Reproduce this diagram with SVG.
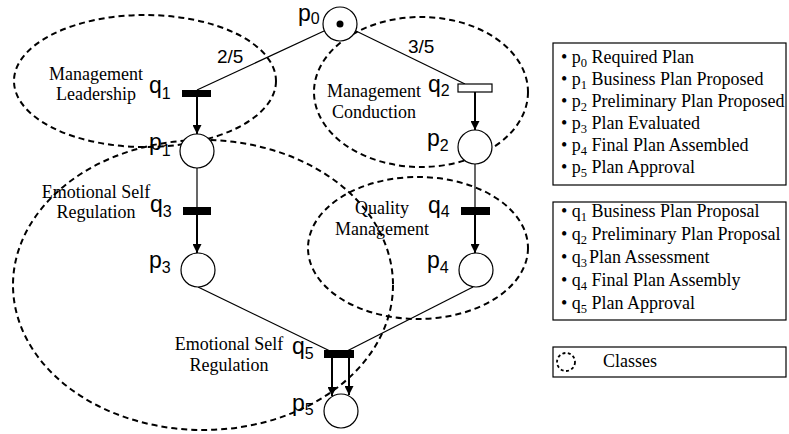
<svg xmlns="http://www.w3.org/2000/svg" width="789" height="434" viewBox="0 0 789 434">
<style>
.cls{fill:none;stroke:#000;stroke-width:2;stroke-dasharray:6 4}
.pl{fill:#fff;stroke:#000;stroke-width:1.2}
.tr{fill:#000}
.lbl{font-family:"Liberation Sans",Arial,sans-serif;font-size:23px;fill:#000}
.sub{font-size:16px}
.frac{font-family:"Liberation Sans",Arial,sans-serif;font-size:19px;fill:#000}
.ct{font-family:"Liberation Serif","Times New Roman",serif;font-size:18px;fill:#000;text-anchor:middle}
.lg{font-family:"Liberation Serif","Times New Roman",serif;font-size:18px;fill:#000}
.ls{font-size:12.5px}
.arc{stroke:#000;stroke-width:1.2;fill:none}
.arr{stroke:#000;stroke-width:2;fill:none;marker-end:url(#ah)}
.box{fill:#fff;stroke:#000;stroke-width:1.2}
</style>
<defs>
<marker id="ah" viewBox="0 0 10 10" refX="10" refY="5" markerWidth="9" markerHeight="9" markerUnits="userSpaceOnUse" orient="auto">
<path d="M0,0 L10,5 L0,10 z" fill="#000"/>
</marker>
</defs>
<rect width="789" height="434" fill="#fff"/>

<g id="classes">
<ellipse class="cls" cx="145" cy="81" rx="131" ry="66"/>
<ellipse class="cls" cx="421" cy="92" rx="107" ry="75"/>
<ellipse class="cls" cx="418" cy="248" rx="110" ry="71"/>
<ellipse class="cls" cx="203" cy="285" rx="190" ry="145"/>
<text class="ct" x="96" y="80">Management</text>
<text class="ct" x="96" y="100">Leadership</text>
<text class="ct" x="374" y="97">Management</text>
<text class="ct" x="374" y="118">Conduction</text>
<text class="ct" x="96" y="198">Emotional Self</text>
<text class="ct" x="96" y="218">Regulation</text>
<text class="ct" x="382" y="214">Quality</text>
<text class="ct" x="382" y="235">Management</text>
<text class="ct" x="229" y="350">Emotional Self</text>
<text class="ct" x="229" y="371">Regulation</text>
</g>

<g id="connectors">
<line class="arc" x1="324" y1="31" x2="197" y2="90"/>
<line class="arc" x1="356" y1="31" x2="465" y2="84"/>
<line class="arr" x1="197" y1="97" x2="197" y2="134"/>
<line class="arc" x1="197" y1="168" x2="197" y2="207"/>
<line class="arr" x1="197" y1="215" x2="197" y2="253"/>
<line class="arr" x1="475" y1="92" x2="475" y2="130"/>
<line class="arc" x1="475" y1="164" x2="475" y2="208"/>
<line class="arr" x1="475" y1="215" x2="475" y2="253"/>
<line class="arc" x1="198" y1="287" x2="330" y2="351"/>
<line class="arc" x1="473" y1="287" x2="347" y2="351"/>
<line class="arr" x1="332" y1="357" x2="332" y2="396"/>
<line class="arr" x1="349" y1="357" x2="349" y2="395"/>
<text class="frac" x="217" y="63">2/5</text>
<text class="frac" x="408" y="53">3/5</text>
</g>

<g id="p0">
<circle class="pl" cx="340" cy="24" r="17"/>
<circle cx="340" cy="24" r="3.5" fill="#000"/>
<text class="lbl" x="298" y="21">p<tspan class="sub" dy="3">0</tspan></text>
</g>
<g id="q1">
<rect class="tr" x="182" y="90" width="29" height="7"/>
<text class="lbl" x="149" y="93">q<tspan class="sub" dy="6">1</tspan></text>
</g>
<g id="p1">
<circle class="pl" cx="197" cy="151" r="17"/>
<text class="lbl" x="149" y="150">p<tspan class="sub" dy="6">1</tspan></text>
</g>
<g id="q3">
<rect class="tr" x="183" y="207" width="28" height="8"/>
<text class="lbl" x="150" y="212">q<tspan class="sub" dy="5">3</tspan></text>
</g>
<g id="p3">
<circle class="pl" cx="198" cy="270" r="17"/>
<text class="lbl" x="149" y="268">p<tspan class="sub" dy="5">3</tspan></text>
</g>
<g id="q2">
<rect class="pl" x="458" y="84" width="34" height="8"/>
<text class="lbl" x="428" y="92">q<tspan class="sub" dy="4">2</tspan></text>
</g>
<g id="p2">
<circle class="pl" cx="475" cy="147" r="17"/>
<text class="lbl" x="427" y="146">p<tspan class="sub" dy="5">2</tspan></text>
</g>
<g id="q4">
<rect class="tr" x="461" y="207" width="29" height="8"/>
<text class="lbl" x="428" y="213">q<tspan class="sub" dy="4">4</tspan></text>
</g>
<g id="p4">
<circle class="pl" cx="476" cy="270" r="17"/>
<text class="lbl" x="427" y="268">p<tspan class="sub" dy="5">4</tspan></text>
</g>
<g id="q5">
<rect class="tr" x="324" y="350" width="30" height="8"/>
<text class="lbl" x="292" y="354">q<tspan class="sub" dy="5">5</tspan></text>
</g>
<g id="p5">
<circle class="pl" cx="341" cy="411" r="17"/>
<text class="lbl" x="292" y="411">p<tspan class="sub" dy="4">5</tspan></text>
</g>

<g id="legend-places">
<rect class="box" x="553" y="43" width="233" height="142"/>
<text class="lg" x="561" y="63">• p<tspan class="ls" dy="4">0</tspan><tspan dy="-4"> Required Plan</tspan></text>
<text class="lg" x="561" y="85">• p<tspan class="ls" dy="4">1</tspan><tspan dy="-4"> Business Plan Proposed</tspan></text>
<text class="lg" x="561" y="107">• p<tspan class="ls" dy="4">2</tspan><tspan dy="-4"> Preliminary Plan Proposed</tspan></text>
<text class="lg" x="561" y="129">• p<tspan class="ls" dy="4">3</tspan><tspan dy="-4"> Plan Evaluated</tspan></text>
<text class="lg" x="561" y="151">• p<tspan class="ls" dy="4">4</tspan><tspan dy="-4"> Final Plan Assembled</tspan></text>
<text class="lg" x="561" y="173">• p<tspan class="ls" dy="4">5</tspan><tspan dy="-4"> Plan Approval</tspan></text>
</g>
<g id="legend-transitions">
<rect class="box" x="553" y="202" width="233" height="118"/>
<text class="lg" x="561" y="217">• q<tspan class="ls" dy="4">1</tspan><tspan dy="-4"> Business Plan Proposal</tspan></text>
<text class="lg" x="561" y="240">• q<tspan class="ls" dy="4">2</tspan><tspan dy="-4"> Preliminary Plan Proposal</tspan></text>
<text class="lg" x="561" y="263">• q<tspan class="ls" dy="4">3</tspan><tspan dx="2" dy="-4">Plan Assessment</tspan></text>
<text class="lg" x="561" y="286">• q<tspan class="ls" dy="4">4</tspan><tspan dy="-4"> Final Plan Assembly</tspan></text>
<text class="lg" x="561" y="309">• q<tspan class="ls" dy="4">5</tspan><tspan dy="-4"> Plan Approval</tspan></text>
</g>
<g id="legend-classes">
<rect class="box" x="553" y="347" width="233" height="30"/>
<circle cx="566" cy="362" r="9" fill="none" stroke="#000" stroke-width="1.8" stroke-dasharray="3 2.5"/>
<text class="lg" x="603" y="367">Classes</text>
</g>
</svg>
